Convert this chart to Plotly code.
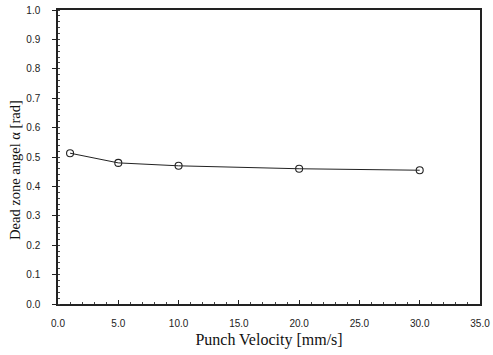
import plotly.graph_objects as go

velocity = [1.0, 5.0, 10.0, 20.0, 30.0]
angle = [0.513, 0.480, 0.470, 0.460, 0.455]
x_ticks = [0, 5, 10, 15, 20, 25, 30, 35]
y_ticks = [0, 0.1, 0.2, 0.3, 0.4, 0.5, 0.6, 0.7, 0.8, 0.9, 1.0]

fig = go.Figure()
fig.add_trace(go.Scatter(
    x=velocity, y=angle, mode="lines+markers",
    line=dict(color="#222", width=1),
    marker=dict(symbol="circle-open", size=7, color="#222", line=dict(width=1.1)),
    showlegend=False,
))
fig.add_annotation(
    text="Dead zone angel α [rad]", textangle=-90,
    xref="paper", yref="paper", x=-0.102, y=0.456,
    xanchor="center", yanchor="middle", showarrow=False,
    font=dict(family="Liberation Serif", size=14.5, color="#111"),
)
fig.update_layout(
    width=493, height=355,
    margin=dict(l=58, r=13, t=10, b=51),
    paper_bgcolor="white", plot_bgcolor="white",
    xaxis=dict(
        range=[0, 35], tickvals=x_ticks, ticktext=[f"{v:.1f}" for v in x_ticks],
        showgrid=False, zeroline=False, showline=True, linecolor="#222", linewidth=1.5,
        mirror=True, ticks="inside", ticklen=4, tickcolor="#222", automargin=False,
        ticklabelstandoff=9,
        minor=dict(dtick=1, ticks="inside", ticklen=2, tickcolor="#444"),
        tickfont=dict(family="Liberation Sans", size=10, color="#222"),
        title=dict(text="Punch Velocity [mm/s]", font=dict(family="Liberation Serif", size=16, color="#111"), standoff=6),
    ),
    yaxis=dict(
        range=[0, 1.0], tickvals=y_ticks, ticktext=[f"{v:.1f}" for v in y_ticks],
        showgrid=False, zeroline=False, showline=True, linecolor="#222", linewidth=1.5,
        mirror=True, ticks="outside", ticklen=4, tickcolor="#222", automargin=False,
        ticklabelstandoff=10,
        minor=dict(dtick=0.02, ticks="inside", ticklen=2, tickcolor="#444"),
        tickfont=dict(family="Liberation Sans", size=10, color="#222"),
    ),
)
fig.write_html("out.html")
